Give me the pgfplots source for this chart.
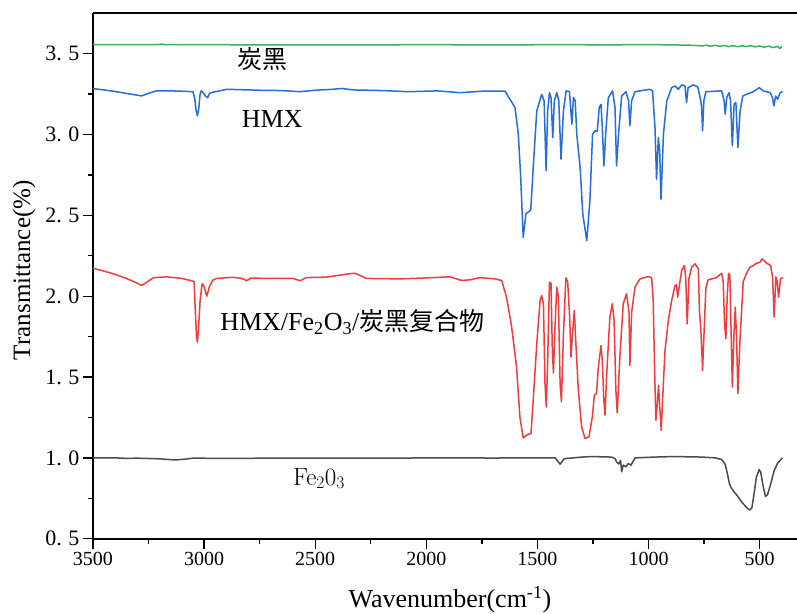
\documentclass[border=0pt]{standalone}
\usepackage{pgfplots}
\pgfplotsset{compat=1.18}
\usepackage{fontspec}
\newfontfamily\tnr{Liberation Serif}
\newfontfamily\cjk{Noto Sans CJK SC}
\definecolor{cgreen}{RGB}{60,175,95}
\definecolor{cblue}{RGB}{35,110,220}
\definecolor{cred}{RGB}{240,60,60}
\definecolor{cblack}{RGB}{75,75,75}
\begin{document}
\begin{tikzpicture}
\begin{axis}[
  at={(93bp,75.3bp)}, anchor=south west,
  scale only axis, width=704bp, height=525.4bp,
  x dir=reverse, xmin=332, xmax=3500, ymin=0.5, ymax=3.75,
  axis x line*=box, axis y line*=left,
  xtick pos=lower, ytick pos=left,
  tick align=outside,
  major tick length=10bp, minor tick length=5bp,
  every tick/.style={black, line width=1.4bp},
  axis line style={black, line width=1.6bp},
  xtick={500,1000,1500,2000,2500,3000,3500},
  xticklabels={\tnr 500,\tnr 1000,\tnr 1500,\tnr 2000,\tnr 2500,\tnr 3000,\tnr 3500},
  ytick={0.5,1,1.5,2,2.5,3,3.5},
  yticklabels={\tnr 0.\hspace{0.3em}5,\tnr 1.\hspace{0.3em}0,\tnr 1.\hspace{0.3em}5,\tnr 2.\hspace{0.3em}0,\tnr 2.\hspace{0.3em}5,\tnr 3.\hspace{0.3em}0,\tnr 3.\hspace{0.3em}5},
  minor x tick num=1, minor y tick num=1,
  xticklabel style={font=\tnr\fontsize{20bp}{24bp}\selectfont},
  yticklabel style={font=\tnr\fontsize{22bp}{26bp}\selectfont},
  xlabel={\tnr Wavenumber(cm\textsuperscript{-1})},
  ylabel={\tnr Transmittance(\%)},
  xlabel style={font=\tnr\fontsize{26bp}{30bp}\selectfont, at={(axis description cs:0.507,-0.130)}, anchor=base},
  ylabel style={font=\tnr\fontsize{25bp}{30bp}\selectfont, at={(axis description cs:-0.098,0.511)}, anchor=center},
  every axis plot/.append style={line width=1.5bp, line join=round},
]
% carbon black
\addplot[cgreen] coordinates {
(3500,3.557)(3300,3.556)(3200,3.557)(3188,3.560)(3175,3.556)(3000,3.556)(2800,3.555)(2600,3.555)(2400,3.554)(2200,3.555)(2000,3.556)(1800,3.555)(1600,3.555)(1400,3.556)(1200,3.555)(1000,3.556)(900,3.555)(800,3.552)
(760,3.548)(740,3.553)(720,3.546)(700,3.552)(680,3.545)(660,3.551)(640,3.544)(620,3.550)(600,3.543)(580,3.549)(560,3.544)(540,3.550)(520,3.542)(500,3.548)(480,3.540)(460,3.547)(440,3.538)(420,3.545)(410,3.532)(400,3.545)
};
% HMX
\addplot[cblue] coordinates {
(3500,3.284)(3450,3.276)(3400,3.266)(3340,3.252)(3281,3.239)(3250,3.255)(3215,3.27)(3150,3.27)(3100,3.268)(3050,3.265)(3042,3.22)(3036,3.15)(3030,3.115)(3024,3.16)(3018,3.25)(3013,3.27)(3005,3.26)(2995,3.24)(2984,3.228)(2975,3.255)(2960,3.262)(2930,3.27)(2898,3.28)(2850,3.278)(2750,3.274)(2650,3.272)(2570,3.265)(2500,3.274)(2420,3.28)(2381,3.285)(2330,3.276)(2200,3.272)(2081,3.265)(1950,3.27)(1848,3.259)(1750,3.268)(1646,3.269)
(1601,3.167)(1586,3.002)(1576,2.755)(1564,2.364)(1552,2.509)(1530,2.533)(1519,2.796)(1503,3.146)(1481,3.249)(1470,3.208)(1461,2.776)(1454,3.146)(1446,3.259)(1439,3.228)(1431,2.981)(1424,3.208)(1413,3.259)(1404,3.21)(1394,2.848)(1383,3.146)(1371,3.27)(1356,3.265)(1345,3.064)(1338,3.228)(1330,3.21)(1323,3.002)(1308,2.796)(1296,2.509)(1278,2.344)(1264,2.59)(1252,3.002)(1241,3.023)(1231,3.02)(1222,3.167)(1214,3.187)(1208,3.043)(1201,2.806)(1193,3.002)(1181,3.228)(1162,3.27)(1151,3.167)(1144,2.806)(1135,3.002)(1121,3.238)(1102,3.265)(1090,3.21)(1084,3.054)(1076,3.21)(1061,3.265)
(994,3.28)(982,3.27)(971,3.043)(964,2.724)(956,2.981)(950,2.90)(944,2.601)(933,3.002)(918,3.208)(896,3.29)(881,3.3)(866,3.28)(851,3.307)(836,3.3)(829,3.198)(822,3.29)(799,3.307)(779,3.295)(768,3.23)(761,3.17)(757,3.023)(751,3.21)(742,3.265)(671,3.27)(660,3.21)(655,3.126)(648,3.23)(638,3.259)(631,3.21)(623,2.93)(615,3.19)(607,3.198)(598,2.92)(588,3.146)(576,3.238)(559,3.249)(529,3.265)(502,3.29)(484,3.27)(453,3.259)(442,3.228)(436,3.177)(428,3.238)(419,3.218)(408,3.259)(397,3.265)
};
% composite
\addplot[cred] coordinates {
(3500,2.173)(3450,2.155)(3400,2.135)(3350,2.11)(3300,2.08)(3281,2.066)(3260,2.085)(3229,2.114)(3170,2.12)(3100,2.11)(3058,2.096)(3045,2.09)(3041,1.95)(3034,1.75)(3030,1.716)(3025,1.80)(3018,1.973)(3009,2.077)(3000,2.06)(2988,2.0)(2976,2.06)(2960,2.1)(2943,2.11)(2870,2.117)(2830,2.11)(2808,2.096)(2790,2.112)(2700,2.11)(2600,2.11)(2568,2.096)(2540,2.115)(2450,2.118)(2376,2.133)(2340,2.14)(2322,2.142)(2300,2.13)(2270,2.11)(2118,2.107)(1968,2.115)(1893,2.12)(1841,2.097)(1800,2.102)(1759,2.115)(1691,2.107)(1661,2.097)
(1639,1.994)(1616,1.809)(1594,1.562)(1579,1.253)(1564,1.123)(1550,1.14)(1541,1.146)(1529,1.15)(1519,1.356)(1503,1.706)(1488,1.973)(1481,2.004)(1473,1.953)(1466,1.459)(1460,1.315)(1454,1.603)(1446,2.087)(1439,2.08)(1433,1.665)(1428,1.525)(1421,1.809)(1413,2.056)(1406,2.0)(1398,1.459)(1392,1.346)(1383,1.768)(1372,2.113)(1364,2.09)(1355,1.871)(1349,1.624)(1341,1.788)(1334,1.912)(1327,1.706)(1316,1.418)(1301,1.191)(1286,1.12)(1268,1.13)(1253,1.253)(1244,1.386)(1234,1.40)(1226,1.562)(1214,1.694)(1208,1.60)(1202,1.377)(1196,1.264)(1189,1.5)(1174,1.871)(1163,1.953)(1155,1.85)(1147,1.418)(1141,1.278)(1129,1.624)(1114,1.953)(1099,2.015)(1088,1.9)(1084,1.572)(1076,1.9)(1061,2.056)(1039,2.107)
(1001,2.122)(986,2.115)(979,1.973)(973,1.562)(967,1.232)(961,1.33)(955,1.448)(949,1.30)(943,1.171)(937,1.35)(926,1.665)(911,1.85)(896,1.973)(881,2.066)(874,2.07)(869,1.994)(862,2.06)(851,2.159)(839,2.19)(833,2.12)(826,1.829)(818,2.11)(806,2.18)(791,2.2)(776,2.17)(771,1.912)(765,1.80)(761,1.68)(757,1.541)(751,1.75)(742,2.05)(732,2.101)(694,2.115)(671,2.142)(664,2.09)(658,1.829)(652,1.737)(646,2.0)(640,2.142)(634,2.13)(628,1.75)(623,1.438)(616,1.75)(610,1.932)(604,1.75)(598,1.397)(589,1.72)(574,2.09)(559,2.142)(544,2.179)(529,2.19)(514,2.204)(499,2.21)(489,2.231)(469,2.205)(451,2.19)(442,2.12)(435,1.871)(427,2.12)(421,2.09)(415,1.994)(406,2.11)(394,2.113)
};
% Fe2O3
\addplot[cblack] coordinates {
(3500,1.0)(3400,1.0)(3350,0.997)(3300,0.998)(3200,0.994)(3130,0.987)(3080,0.993)(3050,0.998)(2900,0.997)(2700,0.998)(2500,0.999)(2300,0.998)(2100,0.999)(1900,1.0)(1700,0.999)(1550,1.0)(1420,1.0)(1398,0.961)(1380,0.995)(1300,1.005)(1256,1.008)(1166,1.005)(1150,0.995)(1144,0.975)(1134,0.962)(1126,0.985)(1121,0.914)(1114,0.955)(1102,0.945)(1091,0.965)(1079,0.955)(1061,1.0)(950,1.006)(881,1.008)(761,1.005)(700,1.0)(671,0.99)(655,0.96)(645,0.90)(636,0.84)(628,0.815)(615,0.79)(600,0.765)(580,0.725)(560,0.695)(545,0.677)(535,0.69)(525,0.78)(515,0.88)(502,0.928)(495,0.91)(485,0.83)(474,0.762)(465,0.77)(450,0.84)(435,0.92)(420,0.965)(398,1.0)
};
\node[font=\cjk\fontsize{25bp}{30bp}\selectfont, anchor=center, inner sep=0pt] at (axis cs:2735,3.464) {炭黑};
\node[font=\tnr\fontsize{26bp}{30bp}\selectfont, anchor=base, inner sep=0pt] at (axis cs:2694,3.041) {HMX};
\node[font=\tnr\fontsize{26bp}{30bp}\selectfont, anchor=base west, inner sep=0pt] at (axis cs:2928,1.788) {HMX/Fe\textsubscript{2}O\textsubscript{3}/{\cjk\fontsize{25bp}{30bp}\selectfont 炭黑复合物}};
\node[font=\fontsize{25bp}{30bp}\selectfont, anchor=base west, inner sep=0pt] at (axis cs:2600,0.831) {Fe\textsubscript{2}0\textsubscript{3}};
\end{axis}
\pgfresetboundingbox
\path (0,0) rectangle (797bp,614bp);
\end{tikzpicture}
\end{document}
